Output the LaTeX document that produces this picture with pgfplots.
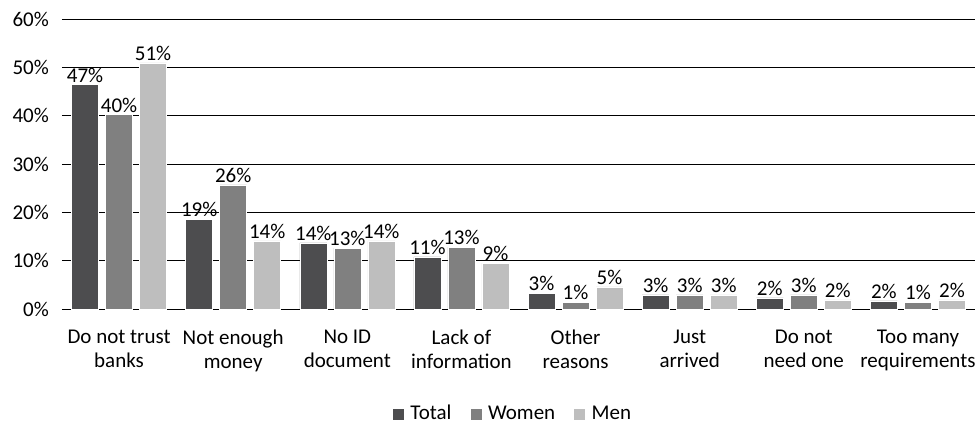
\documentclass[border=0pt]{standalone}
\usepackage{pgfplots}
\usepackage{pgfplotstable}
\pgfplotsset{compat=1.18}
\usepackage{fontspec}
\setmainfont{Carlito}
\definecolor{cTotal}{RGB}{77,77,79}
\definecolor{cWomen}{RGB}{128,128,128}
\definecolor{cMen}{RGB}{190,190,190}
\pgfplotstableread{
x y lab
0 46.4 47
1 18.6 19
2 13.7 14
3 10.8 11
4 3.3 3
5 2.9 3
6 2.3 2
7 1.7 2
}\total
\pgfplotstableread{
x y lab
0 40.2 40
1 25.7 26
2 12.6 13
3 12.8 13
4 1.4 1
5 2.9 3
6 2.9 3
7 1.4 1
}\women
\pgfplotstableread{
x y lab
0 50.9 51
1 14.1 14
2 14.1 14
3 9.5 9
4 4.6 5
5 2.9 3
6 1.9 2
7 1.9 2
}\men
\begin{document}
\fontsize{21}{25}\selectfont
\begin{tikzpicture}
\begin{axis}[
  at={(0pt,0pt)}, anchor=south west,
  scale only axis, width=913pt, height=290pt,
  xmin=-0.5, xmax=7.5, ymin=0, ymax=60,
  ytick={0,10,20,30,40,50,60},
  yticklabel={\pgfmathprintnumber{\tick}\%},
  /pgf/number format/assume math mode=true,
  xtick={0,1,2,3,4,5,6,7},
  xticklabels={{Do not trust\\banks},{Not enough\\money},{No ID\\document},{Lack of\\information},{Other\\reasons},{Just\\arrived},{Do not\\need one},{Too many\\requirements}},
  xticklabel style={align=center, font=\fontsize{21}{24}\selectfont, yshift=-14pt},
  yticklabel style={font=\fontsize{21}{25}\selectfont, xshift=-6pt},
  major tick length=0pt,
  ymajorgrids, grid style={black, line width=1pt},
  axis line style={draw=none},
  ybar, bar width=0.237,
  every axis plot/.append style={draw=white, line width=0.5pt},
  point meta=explicit symbolic,
  nodes near coords={\pgfplotspointmeta\%},
  every node near coord/.append style={font=\fontsize{21}{25}\selectfont, text=black, inner sep=2pt},
  legend columns=3,
  legend style={draw=none, at={(rel axis cs:0.4935,-0.362)}, anchor=center, inner sep=1pt,
     font=\fontsize{21}{25}\selectfont, /tikz/every odd column/.append style={column sep=4pt},
     /tikz/every even column/.append style={column sep=16pt}},
  legend image code/.code={\fill[#1] (0pt,-6pt) rectangle (12pt,6pt);},
]
\addplot[fill=cTotal, bar shift=-0.298] table[x=x, y=y, meta=lab]{\total};
\addplot[fill=cWomen, bar shift=0] table[x=x, y=y, meta=lab]{\women};
\addplot[fill=cMen, bar shift=0.298] table[x=x, y=y, meta=lab]{\men};
\legend{Total, Women, Men}
\end{axis}
\pgfresetboundingbox
\path[use as bounding box] (-62pt,-116pt) rectangle (917pt,309pt);
\end{tikzpicture}
\end{document}
